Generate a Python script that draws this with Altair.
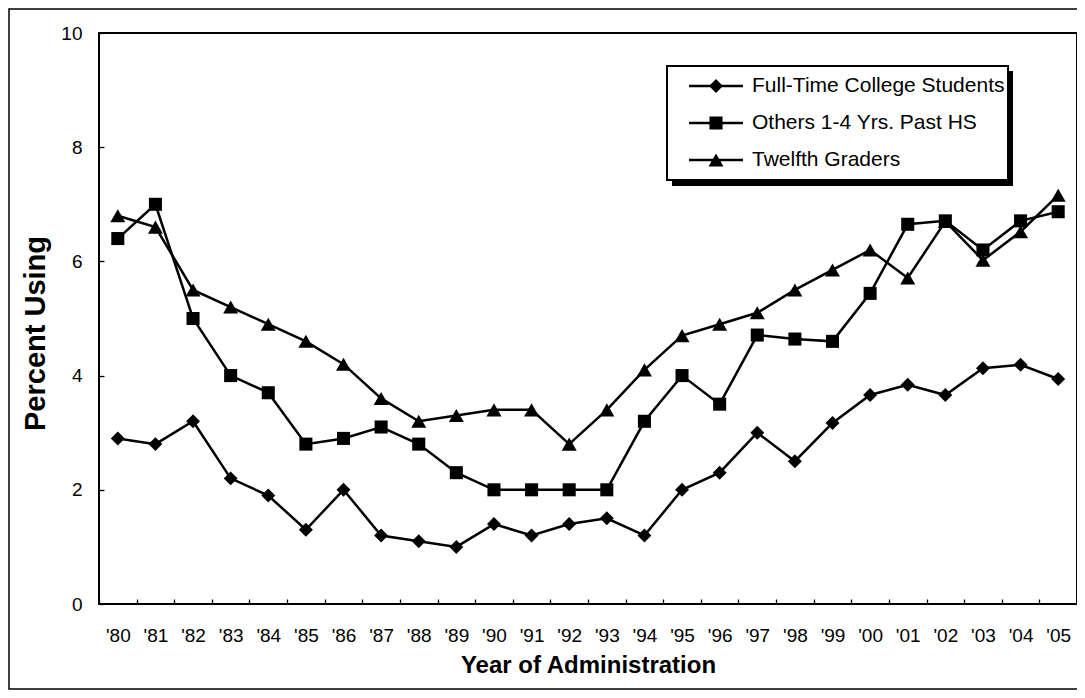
import altair as alt
import pandas as pd

years = ["'80", "'81", "'82", "'83", "'84", "'85", "'86", "'87", "'88", "'89",
         "'90", "'91", "'92", "'93", "'94", "'95", "'96", "'97", "'98", "'99",
         "'00", "'01", "'02", "'03", "'04", "'05"]

series_names = ["Full-Time College Students", "Others 1-4 Yrs. Past HS", "Twelfth Graders"]

full_time = [2.9, 2.8, 3.2, 2.2, 1.9, 1.3, 2.0, 1.2, 1.1, 1.0,
             1.4, 1.2, 1.4, 1.5, 1.2, 2.0, 2.3, 3.0, 2.5, 3.17,
             3.66, 3.84, 3.66, 4.13, 4.19, 3.94]
others = [6.4, 7.0, 5.0, 4.0, 3.7, 2.8, 2.9, 3.1, 2.8, 2.3,
          2.0, 2.0, 2.0, 2.0, 3.2, 4.0, 3.5, 4.71, 4.64, 4.6,
          5.44, 6.65, 6.71, 6.2, 6.71, 6.87]
twelfth = [6.8, 6.6, 5.5, 5.2, 4.9, 4.6, 4.2, 3.6, 3.2, 3.3,
           3.4, 3.4, 2.8, 3.4, 4.1, 4.7, 4.9, 5.1, 5.5, 5.85,
           6.2, 5.71, 6.7, 6.02, 6.52, 7.16]

y_ticks = [0, 2, 4, 6, 8, 10]

rows = []
for name, vals in zip(series_names, [full_time, others, twelfth]):
    for yr, v in zip(years, vals):
        rows.append({"year": yr, "series": name, "value": v})
df = pd.DataFrame(rows)
legend_df = pd.DataFrame({"series": series_names})

FONT = "Liberation Sans"

# marker paths (unit = sqrt(size)/2 px)
marker_paths = [
    "M-0.93,0L0,-0.93L0.93,0L0,0.93Z",
    "M-0.87,-0.87H0.87V0.87H-0.87Z",
    "M0,-0.87L1,0.87L-1,0.87Z",
]
line_seg = "M-3.6,-0.16H3.6V0.16H-3.6Z"
legend_paths = [line_seg + p for p in marker_paths]

x_axis = alt.Axis(title="Year of Administration", labelAngle=0, labelFontSize=19,
                  labelFont=FONT, labelColor="black", titleFont=FONT, titleFontSize=24,
                  titleFontWeight="bold", titleColor="black", domain=False, grid=False,
                  tickBand="extent", tickSize=5, tickColor="black", tickWidth=1.3,
                  offset=-5, labelPadding=22, titlePadding=8, labelOverlap=False)
y_axis = alt.Axis(title="Percent Using", values=y_ticks, labelFontSize=19,
                  labelFont=FONT, labelColor="black", titleFont=FONT, titleFontSize=29,
                  titleFontWeight="bold", titleColor="black", domain=False, grid=False,
                  tickSize=5, tickColor="black", tickWidth=1.3, offset=-5,
                  labelPadding=17, titlePadding=10, titleY=300)

x_enc = alt.X("year:N", sort=years,
              scale=alt.Scale(type="band", domain=years, paddingInner=0, paddingOuter=0),
              axis=x_axis)
y_enc = alt.Y("value:Q", scale=alt.Scale(domain=[0, 10], nice=False), axis=y_axis)

frame = alt.Chart(alt.InlineData(values=[{"a": 1}])).mark_rect(
    fillOpacity=0, stroke="black", strokeWidth=1.5
).encode(x=alt.value(-90), x2=alt.value(1000), y=alt.value(-24), y2=alt.value(656))

shadow = alt.Chart(alt.InlineData(values=[{"a": 1}])).mark_rect(
    color="black"
).encode(x=alt.value(573), x2=alt.value(914), y=alt.value(38), y2=alt.value(153))

box = alt.Chart(alt.InlineData(values=[{"a": 1}])).mark_rect(
    fill="white", stroke="black", strokeWidth=2
).encode(x=alt.value(568), x2=alt.value(909), y=alt.value(33), y2=alt.value(147))

lines = alt.Chart(df).mark_line(color="black", strokeWidth=2.5).encode(
    x=x_enc, y=y_enc, detail="series:N"
)

points = alt.Chart(df).mark_point(filled=True, color="black", size=225, opacity=1).encode(
    x=x_enc, y=y_enc,
    shape=alt.Shape("series:N", scale=alt.Scale(domain=series_names, range=marker_paths),
                    legend=None),
)

legend_layer = alt.Chart(legend_df).mark_point(
    filled=True, color="black", size=225, opacity=1, clip=True
).encode(
    x=alt.value(-300), y=alt.value(-300),
    shape=alt.Shape("series:N", scale=alt.Scale(domain=series_names, range=legend_paths),
                    legend=alt.Legend(orient="none", legendX=606.5, legendY=42.5, title=None,
                                      labelFontSize=21, labelFont=FONT, labelColor="black",
                                      labelOffset=25.5, rowPadding=15, padding=0,
                                      symbolSize=225, symbolStrokeWidth=0,
                                      symbolFillColor="black", labelLimit=400)),
)

chart = alt.layer(frame, shadow, box, lines, points, legend_layer).resolve_scale(
    shape="independent"
).properties(
    width=978, height=571,
    background="white",
    autosize=alt.AutoSizeParams(type="none"),
    padding={"left": 91, "top": 25, "right": 0, "bottom": 86},
).configure_view(stroke="black", strokeWidth=2)

chart.save("out.html", embed_options={"renderer": "svg", "actions": False})
